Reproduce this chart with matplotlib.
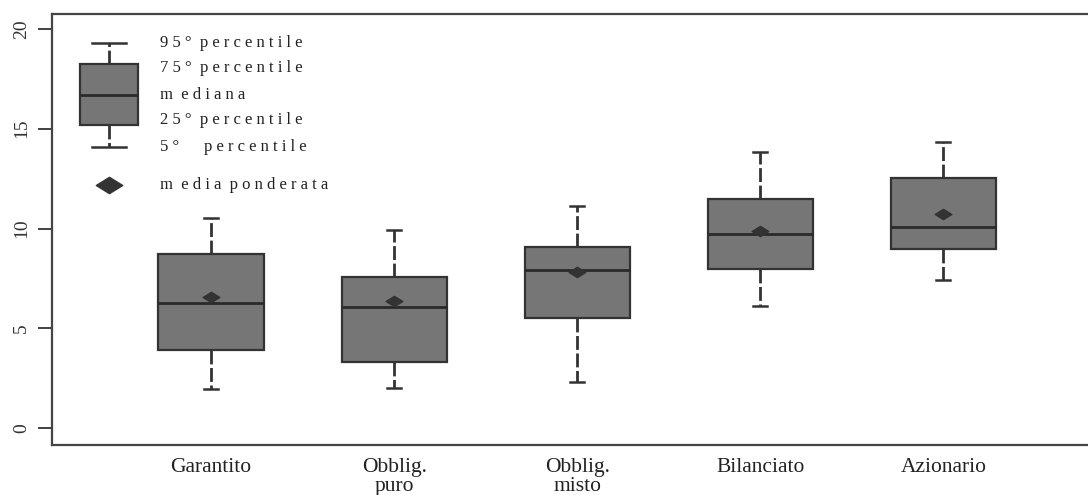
import numpy as np
import matplotlib
matplotlib.use('Agg')
import matplotlib.pyplot as plt
from matplotlib.path import Path

# values
categories = ['Garantito', 'Obblig.\npuro', 'Obblig.\nmisto', 'Bilanciato', 'Azionario']
p5 = [1.95, 1.99, 2.32, 6.12, 7.42]
p25 = [3.91, 3.32, 5.53, 7.95, 8.96]
median = [6.28, 6.05, 7.90, 9.72, 10.09]
p75 = [8.72, 7.58, 9.06, 11.48, 12.52]
p95 = [10.51, 9.92, 11.13, 13.85, 14.35]
wmean = [6.58, 6.35, 7.83, 9.89, 10.73]

legend_labels = ['9 5 °  p e r c e n t i l e', '7 5 °  p e r c e n t i l e', 'm  e d i a n a',
                 '2 5 °  p e r c e n t i l e', '5 °      p e r c e n t i l e']
mean_label = 'm  e d i a  p o n d e r a t a'

plt.rcParams['font.family'] = ['Liberation Serif', 'DejaVu Serif']

BOX_FILL = '#767676'
DARK = '#333333'
WHISK = dict(color=DARK, linewidth=2.0, linestyle=(0, (5, 1.3)))

# flattened diamond marker
diamond = Path([(-1, 0), (0, 0.62), (1, 0), (0, -0.62), (-1, 0)],
               [Path.MOVETO, Path.LINETO, Path.LINETO, Path.LINETO, Path.CLOSEPOLY])

fig = plt.figure(figsize=(10.88, 4.95), dpi=100)
ax = fig.add_axes([0.0478, 0.101, 0.9522, 0.8707])

stats = []
for i in range(len(categories)):
    stats.append(dict(whislo=p5[i], q1=p25[i], med=median[i], q3=p75[i],
                      whishi=p95[i], mean=wmean[i], fliers=[]))
pos = np.arange(1, len(categories) + 1)
ax.bxp(stats, positions=pos, widths=0.575, capwidths=0.077,
       showmeans=True, showfliers=False, patch_artist=True,
       boxprops=dict(facecolor=BOX_FILL, edgecolor=DARK, linewidth=1.6),
       medianprops=dict(color='#2a2a2a', linewidth=2.0),
       whiskerprops=WHISK,
       capprops=dict(color=DARK, linewidth=1.8),
       meanprops=dict(marker=diamond, markersize=12, markerfacecolor=DARK,
                      markeredgecolor=DARK))

# legend glyph
leg = [dict(whislo=14.09, q1=15.19, med=16.69, q3=18.25, whishi=19.3, mean=None, fliers=[])]
ax.bxp(leg, positions=[0.443], widths=0.317, capwidths=0.186, showfliers=False,
       patch_artist=True,
       boxprops=dict(facecolor=BOX_FILL, edgecolor=DARK, linewidth=1.6),
       medianprops=dict(color='#2a2a2a', linewidth=2.0),
       whiskerprops=WHISK,
       capprops=dict(color=DARK, linewidth=1.8), manage_ticks=False)
ax.plot([0.443], [12.18], marker=diamond, markersize=19, color=DARK, linestyle='none')

leg_y = [0.933, 0.875, 0.812, 0.754, 0.691]
for lab, y in zip(legend_labels, leg_y):
    ax.text(0.104, y, lab, transform=ax.transAxes, fontsize=12, va='center', ha='left',
            color='#222222')
ax.text(0.104, 0.603, mean_label, transform=ax.transAxes, fontsize=12, va='center',
        ha='left', color='#222222')

ax.set_xlim(0.131, 5.79)
ax.set_ylim(-0.85, 20.75)
ax.set_xticks(pos)
ax.set_xticklabels(categories, fontsize=15.5, linespacing=1.05)
ax.tick_params(axis='x', length=0, pad=9, colors='#222222')
ax.set_yticks([0, 5, 10, 15, 20])
ax.set_yticklabels(['0', '5', '10', '15', '20'], rotation=90, va='center', fontsize=14)
ax.tick_params(axis='y', length=10, width=1.3, direction='out', pad=6, colors='#333333')

ax.spines['right'].set_visible(False)
for s in ['left', 'bottom', 'top']:
    ax.spines[s].set_color('#444444')
    ax.spines[s].set_linewidth(1.6)

fig.savefig('out.png', dpi=100)
